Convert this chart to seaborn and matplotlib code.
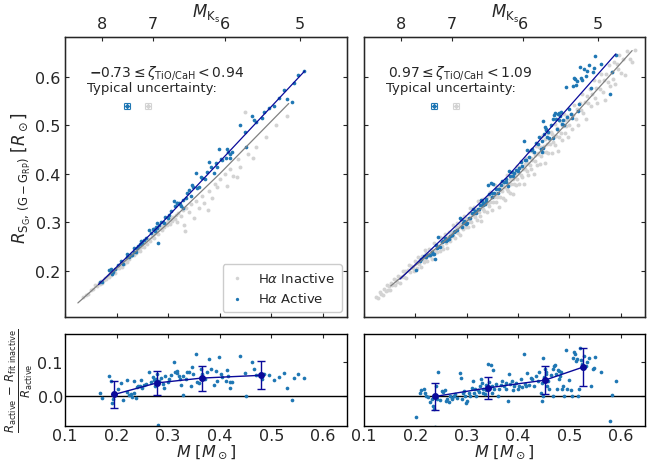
import numpy as np
import pandas as pd
import matplotlib
matplotlib.use("Agg")
import matplotlib.pyplot as plt
import seaborn as sns

# ---------------- data ----------------
# fit of inactive stars (mass, radius) knots
fitL_M = [0.10, 0.125, 0.2, 0.3, 0.4, 0.534, 0.60]
fitL_R = [0.110, 0.134, 0.205, 0.298, 0.400, 0.545, 0.618]
fitL_range = [0.125, 0.534]
fitR_M = [0.10, 0.152, 0.25, 0.398, 0.5, 0.622, 0.66]
fitR_R = [0.125, 0.169, 0.255, 0.395, 0.51, 0.654, 0.70]
fitR_range = [0.152, 0.622]

# fit of active stars
actfitL_M = [0.165, 0.28, 0.4, 0.565]
actfitL_R = [0.172, 0.29, 0.425, 0.612]
actfitR_M = [0.17, 0.38, 0.59]
actfitR_R = [0.183, 0.395, 0.647]

# active stars: mass and fractional residual
actL_M = [0.168, 0.171, 0.1845, 0.189, 0.191, 0.194, 0.197, 0.203, 0.208, 0.212, 0.220, 0.221, 0.2245, 0.228,
          0.2297, 0.234, 0.234, 0.237, 0.239, 0.241, 0.246, 0.247, 0.250, 0.2535, 0.257, 0.263, 0.2665, 0.270,
          0.273, 0.275, 0.276, 0.278, 0.279, 0.2826, 0.286, 0.291, 0.292, 0.294, 0.299, 0.302, 0.305, 0.312,
          0.313, 0.317, 0.318, 0.321, 0.3226, 0.3245, 0.328, 0.3297, 0.334, 0.337, 0.341, 0.344, 0.347, 0.349,
          0.3535, 0.357, 0.359, 0.363, 0.3665, 0.371, 0.376, 0.379, 0.3826, 0.389, 0.392, 0.3955, 0.399, 0.402,
          0.405, 0.4116, 0.415, 0.417, 0.420, 0.421, 0.4245, 0.439, 0.450, 0.452, 0.463, 0.466, 0.470, 0.4826,
          0.486, 0.4955, 0.505, 0.515, 0.5245, 0.530, 0.541, 0.544, 0.5516, 0.5645, 0.2806]
actL_res = [0.0095, -0.004, 0.060, 0.046, -0.019, -0.007, 0.008, 0.022, 0.039, -0.010, 0.048, 0.014, 0.003, 0.008,
            -0.002, 0.010, 0.046, -0.004, 0.027, 0.030, 0.031, 0.048, 0.024, 0.033, 0.036, 0.071, 0.043, 0.055,
            0.048, 0.030, 0.050, 0.041, 0.065, 0.046, 0.052, 0.036, 0.024, 0.060, 0.041, 0.050, 0.062, 0.098,
            0.070, 0.074, 0.068, 0.058, 0.050, 0.033, 0.058, 0.003, 0.050, 0.070, 0.071, 0.031, 0.084, 0.065,
            0.122, 0.041, 0.039, 0.079, 0.065, 0.050, 0.071, 0.108, 0.079, 0.033, 0.074, 0.046, 0.115, 0.065,
            0.055, 0.046, 0.077, 0.060, 0.024, 0.043, 0.041, 0.117, 0.068, 0.000, 0.098, 0.079, 0.062, 0.050,
            0.065, 0.062, 0.048, 0.057, 0.068, 0.024, -0.009, 0.053, 0.065, 0.053, -0.083]

actR_M = [0.202, 0.210, 0.209, 0.217, 0.219, 0.221, 0.225, 0.228, 0.233, 0.235, 0.236, 0.238, 0.240, 0.243,
          0.245, 0.247, 0.251, 0.254, 0.258, 0.260, 0.262, 0.266, 0.268, 0.271, 0.272, 0.275, 0.277, 0.282,
          0.286, 0.288, 0.290, 0.293, 0.295, 0.297, 0.299, 0.301, 0.305, 0.306, 0.310, 0.312, 0.314, 0.316,
          0.318, 0.321, 0.323, 0.325, 0.327, 0.329, 0.331, 0.332, 0.336, 0.337, 0.338, 0.342, 0.344, 0.347,
          0.349, 0.350, 0.351, 0.353, 0.356, 0.360, 0.362, 0.366, 0.369, 0.373, 0.376, 0.377, 0.381, 0.382,
          0.384, 0.388, 0.390, 0.392, 0.395, 0.399, 0.402, 0.405, 0.408, 0.412, 0.414, 0.416, 0.418, 0.421,
          0.425, 0.428, 0.431, 0.434, 0.438, 0.441, 0.444, 0.446, 0.447, 0.449, 0.449, 0.451, 0.453, 0.454,
          0.455, 0.457, 0.459, 0.460, 0.464, 0.467, 0.468, 0.470, 0.472, 0.473, 0.475, 0.477, 0.479, 0.480,
          0.481, 0.483, 0.485, 0.488, 0.490, 0.493, 0.496, 0.499, 0.503, 0.505, 0.506, 0.509, 0.511, 0.512,
          0.514, 0.516, 0.519, 0.520, 0.522, 0.524, 0.529, 0.532, 0.535, 0.538, 0.542, 0.545, 0.548, 0.550,
          0.561, 0.579, 0.582, 0.590]
actR_res = [-0.060, 0.019, 0.010, 0.021, 0.009, 0.000, -0.001, -0.017, -0.008, -0.027, -0.036, -0.087, 0.029, -0.008,
            0.070, -0.010, 0.016, 0.013, 0.019, -0.012, -0.008, -0.017, 0.000, -0.003, -0.008, 0.002, 0.007, -0.005,
            0.067, 0.052, -0.006, 0.011, 0.016, 0.002, -0.019, -0.012, 0.009, 0.002, 0.025, 0.045, 0.010, 0.021,
            0.002, 0.019, 0.013, 0.029, 0.051, 0.040, 0.010, 0.021, 0.007, 0.032, 0.019, 0.094, 0.042, 0.090,
            0.011, 0.029, 0.076, 0.023, 0.035, 0.002, 0.021, 0.032, 0.045, 0.029, 0.040, 0.021, -0.012, 0.066,
            0.035, 0.045, 0.019, 0.029, 0.038, 0.023, 0.029, 0.051, 0.026, 0.123, 0.035, 0.029, 0.069, 0.032,
            0.054, 0.050, 0.029, 0.059, 0.045, 0.070, 0.010, 0.040, -0.012, 0.002, 0.111, 0.057, 0.078, 0.070,
            0.064, 0.029, 0.045, 0.021, 0.061, 0.080, 0.002, 0.088, 0.090, 0.064, 0.021, 0.076, 0.050, 0.073,
            0.059, 0.070, 0.021, 0.030, 0.002, 0.133, 0.021, 0.048, 0.019, 0.000, 0.111, 0.128, 0.121, 0.102,
            0.109, 0.000, 0.021, 0.140, 0.104, 0.094, 0.118, 0.088, 0.099, 0.111, 0.030, 0.078, 0.083, 0.114,
            0.070, -0.070, 0.004, 0.045]

# binned residuals
binL_M = [0.196, 0.278, 0.365, 0.480]
binL_res = [0.006, 0.039, 0.053, 0.061]
binL_err = [0.038, 0.034, 0.036, 0.040]
binR_M = [0.238, 0.342, 0.452, 0.527]
binR_res = [0.000, 0.025, 0.047, 0.085]
binR_err = [0.038, 0.032, 0.040, 0.055]

# inactive stars (mass, radius)
inL_M = [0.135, 0.14, 0.145, 0.15, 0.155, 0.158, 0.162, 0.165, 0.168, 0.17, 0.172, 0.175, 0.178, 0.18, 0.183,
         0.185, 0.188, 0.19, 0.192, 0.195, 0.197, 0.2, 0.202, 0.205, 0.208, 0.21, 0.212, 0.215, 0.218, 0.22,
         0.222, 0.225, 0.228, 0.23, 0.233, 0.235, 0.238, 0.24, 0.243, 0.245, 0.248, 0.25, 0.253, 0.255, 0.258,
         0.26, 0.263, 0.265, 0.268, 0.27, 0.273, 0.275, 0.278, 0.28, 0.283, 0.285, 0.288, 0.29, 0.293, 0.295,
         0.298, 0.30, 0.303, 0.305, 0.308, 0.31, 0.313, 0.315, 0.318, 0.32, 0.325, 0.328, 0.33, 0.333, 0.335,
         0.34, 0.345, 0.35, 0.355, 0.36, 0.365, 0.37, 0.377, 0.38, 0.385, 0.39, 0.395, 0.40, 0.41, 0.415, 0.42,
         0.425, 0.433, 0.435, 0.44, 0.449, 0.455, 0.464, 0.47, 0.49, 0.51, 0.53]
inL_R = [0.146, 0.150, 0.153, 0.160, 0.163, 0.170, 0.168, 0.175, 0.172, 0.180, 0.176, 0.182, 0.186, 0.183, 0.190,
         0.187, 0.195, 0.192, 0.198, 0.200, 0.196, 0.205, 0.210, 0.207, 0.213, 0.209, 0.218, 0.214, 0.222, 0.219,
         0.228, 0.224, 0.230, 0.236, 0.232, 0.240, 0.236, 0.243, 0.246, 0.241, 0.250, 0.255, 0.249, 0.258, 0.262,
         0.256, 0.266, 0.262, 0.270, 0.275, 0.268, 0.278, 0.282, 0.276, 0.286, 0.291, 0.284, 0.293, 0.290, 0.298,
         0.294, 0.302, 0.297, 0.308, 0.303, 0.312, 0.306, 0.316, 0.300, 0.320, 0.314, 0.325, 0.295, 0.282, 0.330,
         0.322, 0.338, 0.310, 0.345, 0.330, 0.355, 0.340, 0.325, 0.365, 0.350, 0.380, 0.372, 0.390, 0.400, 0.375,
         0.410, 0.395, 0.393, 0.430, 0.415, 0.528, 0.440, 0.432, 0.455, 0.475, 0.500, 0.520]

inR_M = [0.124, 0.128, 0.131, 0.134, 0.137, 0.139, 0.142, 0.144, 0.147, 0.149, 0.151, 0.153, 0.155, 0.158, 0.16,
         0.162, 0.165, 0.167, 0.17, 0.172, 0.175, 0.177, 0.18, 0.182, 0.185, 0.187, 0.19, 0.192, 0.195, 0.197, 0.199,
         0.201, 0.203, 0.2045, 0.207, 0.2085, 0.211, 0.212, 0.2145, 0.216, 0.2185, 0.219, 0.2215, 0.223, 0.2255,
         0.227, 0.229, 0.2305, 0.233, 0.2345, 0.236, 0.2385, 0.2395, 0.242, 0.2435, 0.245, 0.247, 0.2485, 0.25,
         0.2515, 0.253, 0.2545, 0.256, 0.2575, 0.259, 0.2605, 0.262, 0.2635, 0.265, 0.2665, 0.268, 0.2695, 0.271,
         0.2725, 0.274, 0.2755, 0.277, 0.2785, 0.28, 0.2815, 0.283, 0.2845, 0.286, 0.2875, 0.289, 0.2905, 0.292,
         0.2935, 0.295, 0.2965, 0.298, 0.2995,
         0.301, 0.3025, 0.304, 0.3055, 0.307, 0.3085, 0.31, 0.3115, 0.313, 0.3145, 0.316, 0.3175, 0.319, 0.3205,
         0.322, 0.3235, 0.325, 0.3265, 0.328, 0.3295, 0.331, 0.3325, 0.334, 0.3355, 0.337, 0.3385, 0.34, 0.3415,
         0.343, 0.3445, 0.346, 0.3475, 0.349, 0.3505, 0.352, 0.3535, 0.355, 0.3565, 0.358, 0.3595, 0.361, 0.3625,
         0.364, 0.3655, 0.367, 0.3685, 0.37, 0.3715, 0.373, 0.3745, 0.376, 0.3775, 0.379, 0.3805, 0.382, 0.3835,
         0.385, 0.3865, 0.388, 0.3895, 0.391, 0.3925, 0.394, 0.3955, 0.397, 0.3985,
         0.4005, 0.402, 0.4035, 0.405, 0.4065, 0.408, 0.4095, 0.411, 0.4125, 0.414, 0.4155, 0.417, 0.4185, 0.42,
         0.4215, 0.423, 0.4245, 0.426, 0.4275, 0.429, 0.4305, 0.432, 0.4335, 0.435, 0.4365, 0.438, 0.4395, 0.441,
         0.4425, 0.444, 0.4455, 0.447, 0.4485, 0.45, 0.4515, 0.453, 0.4545, 0.456, 0.4575, 0.459, 0.4605, 0.462,
         0.4635, 0.465, 0.4665, 0.468, 0.4695, 0.471, 0.4725, 0.474, 0.4755, 0.477, 0.4785, 0.48, 0.4815, 0.483,
         0.4845, 0.486, 0.4875, 0.489, 0.4905, 0.492, 0.4935, 0.495, 0.4965, 0.498, 0.4995,
         0.502, 0.5045, 0.507, 0.5095, 0.512, 0.5145, 0.517, 0.5195, 0.522, 0.5245, 0.527, 0.5295, 0.532, 0.5345,
         0.537, 0.5395, 0.542, 0.5445, 0.547, 0.5495, 0.552, 0.5545, 0.557, 0.5595, 0.562, 0.5645, 0.567, 0.5695,
         0.572, 0.5745, 0.577, 0.5795, 0.582, 0.5845, 0.587, 0.5895, 0.592, 0.5945, 0.597, 0.6, 0.604, 0.608,
         0.612, 0.617, 0.621, 0.628]
inR_R = [0.146, 0.144, 0.157, 0.153, 0.150, 0.162, 0.158, 0.171, 0.160, 0.168, 0.160, 0.176, 0.171, 0.184, 0.170,
         0.181, 0.177, 0.189, 0.176, 0.188, 0.200, 0.187, 0.199, 0.185, 0.201, 0.213, 0.198, 0.211, 0.206, 0.199, 0.220,
         0.218, 0.206, 0.228, 0.215, 0.223, 0.208, 0.231, 0.225, 0.218, 0.243, 0.224, 0.237, 0.220, 0.235,
         0.246, 0.231, 0.243, 0.225, 0.241, 0.257, 0.242, 0.254, 0.239, 0.252, 0.250, 0.269, 0.242, 0.261,
         0.251, 0.268, 0.245, 0.263, 0.277, 0.257, 0.270, 0.248, 0.269, 0.281, 0.268, 0.262, 0.280, 0.275,
         0.295, 0.272, 0.283, 0.268, 0.291, 0.281, 0.299, 0.278, 0.291, 0.273, 0.297, 0.291, 0.304, 0.286,
         0.298, 0.314, 0.294, 0.308, 0.290,
         0.307, 0.290, 0.319, 0.303, 0.329, 0.301, 0.318, 0.292, 0.315, 0.331, 0.311, 0.327, 0.305, 0.324,
         0.345, 0.322, 0.314, 0.338, 0.302, 0.334, 0.327, 0.349, 0.324, 0.337, 0.344, 0.321, 0.352, 0.340,
         0.334, 0.362, 0.342, 0.352, 0.326, 0.359, 0.343, 0.353, 0.377, 0.342, 0.360, 0.352, 0.373, 0.332,
         0.369, 0.353, 0.382, 0.364, 0.351, 0.378, 0.372, 0.347, 0.385, 0.368, 0.397, 0.365, 0.382, 0.361,
         0.390, 0.379, 0.400, 0.358, 0.389, 0.380, 0.400, 0.377, 0.416, 0.390,
         0.404, 0.379, 0.414, 0.397, 0.426, 0.393, 0.411, 0.380, 0.421, 0.411, 0.432, 0.406, 0.423, 0.397,
         0.447, 0.419, 0.433, 0.410, 0.429, 0.444, 0.400, 0.439, 0.427, 0.457, 0.419, 0.443, 0.440, 0.455,
         0.420, 0.456, 0.437, 0.477, 0.446, 0.458, 0.422, 0.472, 0.445, 0.461, 0.484, 0.443, 0.472, 0.462,
         0.486, 0.443, 0.482, 0.465, 0.479, 0.460, 0.503, 0.478, 0.494, 0.448, 0.491, 0.475, 0.508, 0.485,
         0.501, 0.470, 0.498, 0.524, 0.484, 0.510, 0.499, 0.519, 0.476, 0.512, 0.500,
         0.524, 0.493, 0.522, 0.541, 0.514, 0.534, 0.500, 0.547, 0.532, 0.564, 0.526, 0.548, 0.512, 0.561,
         0.547, 0.575, 0.539, 0.564, 0.594, 0.556, 0.577, 0.547, 0.592, 0.575, 0.605, 0.568, 0.593, 0.552,
         0.606, 0.589, 0.625, 0.582, 0.609, 0.596, 0.630, 0.585, 0.626, 0.616, 0.645, 0.608, 0.636, 0.604,
         0.654, 0.636, 0.631, 0.656]

mks_ticks = [8, 7, 6, 5]
mks_tick_mass = [0.172, 0.271, 0.41, 0.555]

zeta_labels = [r"$\mathbf{-}0.73 \leq \zeta_{\rm TiO/CaH} < 0.94$",
               r"$0.97 \leq \zeta_{\rm TiO/CaH} < 1.09$"]
unc_M = [[0.220, 0.261], [0.236, 0.279]]
unc_R = 0.540
unc_err = [0.0055, 0.0058]

# ---------------- plotting ----------------
sns.set_style("white")
plt.rcParams['font.family'] = ['DejaVu Sans']
plt.rcParams['mathtext.fontset'] = 'dejavusans'

fig = plt.figure(figsize=(6.57, 4.64), dpi=100)
W, H = 657, 464
def axbox(x0, y0, x1, y1):
    return fig.add_axes([x0 / W, 1 - y1 / H, (x1 - x0) / W, (y1 - y0) / H])

axT = [axbox(65, 38, 347, 318), axbox(364, 38, 645, 318)]
axB = [axbox(65, 335, 347, 427), axbox(364, 335, 645, 427)]

ACT = '#1f77b4'
LINE = '#0a0a9a'
INACT = '#d3d3d3'

panels = [
    dict(fitM=fitL_M, fitR=fitL_R, rng=fitL_range, afM=actfitL_M, afR=actfitL_R,
         aM=actL_M, ares=actL_res, iM=inL_M, iR=inL_R, bM=binL_M, bres=binL_res, berr=binL_err),
    dict(fitM=fitR_M, fitR=fitR_R, rng=fitR_range, afM=actfitR_M, afR=actfitR_R,
         aM=actR_M, ares=actR_res, iM=inR_M, iR=inR_R, bM=binR_M, bres=binR_res, berr=binR_err),
]

for i, p in enumerate(panels):
    ax = axT[i]
    inact = pd.DataFrame({'M': p['iM'], 'R': p['iR']})
    aM = np.array(p['aM'])
    aR = np.interp(aM, p['fitM'], p['fitR']) / (1 - np.array(p['ares']))
    act = pd.DataFrame({'M': aM, 'R': aR})
    sns.scatterplot(data=inact, x='M', y='R', ax=ax, color=INACT, s=8, linewidth=0,
                    label=r'H$\alpha$ Inactive', zorder=1)
    sns.scatterplot(data=act, x='M', y='R', ax=ax, color=ACT, s=7, linewidth=0,
                    label=r'H$\alpha$ Active', zorder=2)
    fM = np.array(p['fitM']); fR = np.array(p['fitR'])
    sel = (fM >= p['rng'][0]) & (fM <= p['rng'][1])
    line_df = pd.DataFrame({'M': fM[sel], 'R': fR[sel]})
    sns.lineplot(data=line_df, x='M', y='R', ax=ax, color='gray', lw=0.9, sort=True, zorder=3)
    afdf = pd.DataFrame({'M': p['afM'], 'R': p['afR']})
    sns.lineplot(data=afdf, x='M', y='R', ax=ax, color=LINE, lw=0.9, sort=True, zorder=4)

    # typical uncertainty markers (caps form a small box)
    ax.errorbar([unc_M[i][0]], [unc_R], xerr=unc_err[0], yerr=unc_err[1], fmt='o', ms=2,
                color=ACT, capsize=2, lw=0.8, capthick=0.8)
    ax.errorbar([unc_M[i][1]], [unc_R], xerr=unc_err[0], yerr=unc_err[1], fmt='o', ms=2,
                color=INACT, capsize=2, lw=0.8, capthick=0.8)
    ax.text(0.085, 0.875, zeta_labels[i], transform=ax.transAxes, fontsize=10, va='center', ha='left')
    ax.text(0.078, 0.818, "Typical uncertainty:", transform=ax.transAxes, fontsize=9.5,
            va='center', ha='left')

    ax.set_xlim(0.1, 0.647)
    ax.set_ylim(0.105, 0.682)
    ax.set_xticks([0.1, 0.2, 0.3, 0.4, 0.5, 0.6])
    ax.set_xticklabels([])
    ax.set_yticks([0.2, 0.3, 0.4, 0.5, 0.6])
    ax.tick_params(direction='in', top=False, right=True, bottom=True, left=True,
                   labelsize=11.5, length=3, width=0.8, pad=3)
    ax.set_xlabel('')
    if i == 0:
        ax.set_ylabel(r"$R_{\mathrm{S_G,\,(G-G_{RP})}}$ $[R_\odot]$", fontsize=12, labelpad=2)
        ax.legend(loc='lower right', fontsize=9.5, markerscale=0.9, handlelength=1.2,
                  handletextpad=1.0, borderpad=0.5, framealpha=1, borderaxespad=0.4)
    else:
        ax.set_ylabel('')
        ax.set_yticklabels([])
        ax.get_legend().remove()
    for s in ax.spines.values():
        s.set_visible(True); s.set_color('black'); s.set_linewidth(1.0)

    # top MKs axis
    tw = ax.twiny()
    tw.set_xlim(ax.get_xlim())
    tw.set_xticks(mks_tick_mass)
    tw.set_xticklabels([str(t) for t in mks_ticks])
    tw.tick_params(direction='in', labelsize=11.5, length=3, width=0.8, pad=4)
    tw.set_xlabel(r"$M_{\mathrm{K_s}}$", fontsize=12, labelpad=0)
    tw.grid(False)

    # bottom residual panel
    axb = axB[i]
    rdf = pd.DataFrame({'M': p['aM'], 'res': p['ares']})
    axb.axhline(0, color='black', lw=1.0, zorder=1)
    sns.scatterplot(data=rdf, x='M', y='res', ax=axb, color=ACT, s=7, linewidth=0, zorder=2)
    axb.errorbar(p['bM'], p['bres'], yerr=p['berr'], fmt='o-', color=LINE, ms=4,
                 capsize=3, lw=1.0, elinewidth=1.0, zorder=3)
    axb.set_xlim(0.1, 0.647)
    axb.set_ylim(-0.085, 0.18)
    axb.set_xticks([0.1, 0.2, 0.3, 0.4, 0.5, 0.6])
    axb.set_yticks([0.0, 0.1])
    axb.tick_params(direction='in', top=True, right=True, labelsize=11.5, length=3, width=0.8, pad=1.5)
    axb.set_xlabel(r"$M$ $[M_\odot]$", fontsize=11.5, labelpad=-1)
    if i == 0:
        axb.set_ylabel(r"$\frac{R_{\rm active}\,-\,R_{\rm fit\ inactive}}{R_{\rm active}}$",
                       fontsize=12, labelpad=2)
    else:
        axb.set_ylabel('')
        axb.set_yticklabels([])
    for s in axb.spines.values():
        s.set_visible(True); s.set_color('black'); s.set_linewidth(1.0)

fig.savefig("out.png", dpi=100)
